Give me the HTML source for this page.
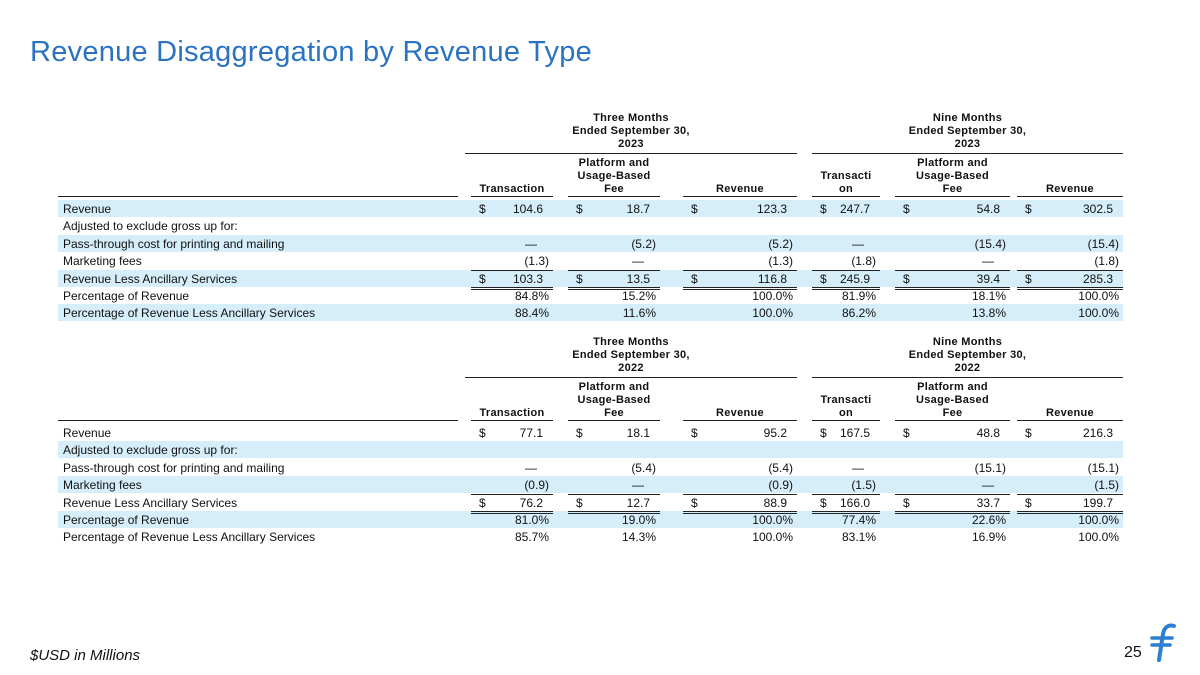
<!DOCTYPE html>
<html><head><meta charset="utf-8"><style>
body{margin:0;width:1200px;height:675px;background:#fff;position:relative;overflow:hidden;font-family:"Liberation Sans",Arial,sans-serif;}
.a{position:absolute;white-space:nowrap;z-index:1;}
.t{font-size:12px;color:#111;line-height:17px;}
.h{font-size:11px;font-weight:bold;color:#111;line-height:13px;text-align:center;letter-spacing:0.3px;}
.ln{position:absolute;height:0;border-top:1.5px solid #222;z-index:2;}
.sh{position:absolute;background:#d5eefa;height:17px;z-index:0;}
</style></head><body>
<div class="a" style="left:30px;top:36px;font-size:29px;color:#2b73c2;letter-spacing:0.25px;">Revenue Disaggregation by Revenue Type</div>
<div id="root"></div>
<div class="a" style="left:30px;top:647px;font-size:15px;font-style:italic;color:#111;">$USD in Millions</div>
<div class="a" style="left:1124px;top:644px;font-size:16px;color:#111;">25</div>
<svg class="a" style="left:1148px;top:622px" width="32" height="42" viewBox="0 0 32 42">
<path d="M26 4 C20 2 16 6 15 12 L11 38" stroke="#2b7fd1" stroke-width="4" fill="none" stroke-linecap="round"/>
<line x1="4" y1="16" x2="24" y2="16" stroke="#2b7fd1" stroke-width="3.5" stroke-linecap="round"/>
<line x1="4" y1="23" x2="22" y2="23" stroke="#2b7fd1" stroke-width="3.5" stroke-linecap="round"/>
</svg>
<script>
const cols=[[471,553],[568,660],[683,797],[812,880],[895,1010],[1017,1123]];
const labels=["Revenue","Adjusted to exclude gross up for:","Pass-through cost for printing and mailing","Marketing fees","Revenue Less Ancillary Services","Percentage of Revenue","Percentage of Revenue Less Ancillary Services"];
const dollarRows=[0,4];
const vals2023=[["104.6","18.7","123.3","247.7","54.8","302.5"],null,["—","(5.2)","(5.2)","—","(15.4)","(15.4)"],["(1.3)","—","(1.3)","(1.8)","—","(1.8)"],["103.3","13.5","116.8","245.9","39.4","285.3"],["84.8%","15.2%","100.0%","81.9%","18.1%","100.0%"],["88.4%","11.6%","100.0%","86.2%","13.8%","100.0%"]];
const vals2022=[["77.1","18.1","95.2","167.5","48.8","216.3"],null,["—","(5.4)","(5.4)","—","(15.1)","(15.1)"],["(0.9)","—","(0.9)","(1.5)","—","(1.5)"],["76.2","12.7","88.9","166.0","33.7","199.7"],["81.0%","19.0%","100.0%","77.4%","22.6%","100.0%"],["85.7%","14.3%","100.0%","83.1%","16.9%","100.0%"]];
const root=document.getElementById('root');
function mk(cls,style,text){const d=document.createElement('div');d.className=cls;d.style.cssText=style;if(text!=null)d.textContent=text;root.appendChild(d);return d;}
function table(top,year,vals,shadeParity,name){
  const groups=[["Three Months",465,797],["Nine Months",812,1123]];
  groups.forEach((g,i)=>{
    const d=mk('a h',`left:${g[1]}px;width:${g[2]-g[1]}px;top:${top+1}px;`);
    d.innerHTML=g[0]+"<br>Ended September 30,<br>"+year;
    
    
    mk('ln',`left:${g[1]}px;width:${g[2]-g[1]}px;top:${top+42}px;`);
  });
  const sub=["<br><br>Transaction","Platform and<br>Usage-Based<br>Fee","<br><br>Revenue","<br>Transacti<br>on","Platform and<br>Usage-Based<br>Fee","<br><br>Revenue"];
  cols.forEach((c,i)=>{
    const d=mk('a h',`left:${c[0]}px;width:${c[1]-c[0]}px;top:${top+46}px;`);
    d.innerHTML=sub[i];
    
    
    mk('ln',`left:${c[0]}px;width:${c[1]-c[0]}px;top:${top+85}px;`);
  });
  mk('ln',`left:58px;width:400px;top:${top+85}px;`);
  const y0=top+89;
  labels.forEach((lab,r)=>{
    const y=y0+r*17.4;
    if(r%2===shadeParity){
      mk('sh',`left:58px;width:1065px;top:${y}px;`);
    }
    const l=mk('a t',`left:63px;top:${y+1}px;`,lab);
    
    
    const v=vals[r];
    if(!v)return;
    cols.forEach((c,i)=>{
      if(dollarRows.includes(r)){
        mk('a t',`left:${c[0]+8}px;top:${y+1}px;`,'$');
      }
      const pad=v[i]==="—"?(i===2||i===5?18:16):(v[i].endsWith(')')||v[i].endsWith('%')?4:10);
      const e=mk('a t',`right:${1200-c[1]+pad}px;top:${y+1}px;text-align:right;`,v[i]);
      
      
      if(r===4){
        mk('ln',`left:${c[0]}px;width:${c[1]-c[0]}px;top:${y}px;border-top-width:1px;`);
        mk('ln',`left:${c[0]}px;width:${c[1]-c[0]}px;top:${y+17}px;border-top-width:1px;`);
        mk('ln',`left:${c[0]}px;width:${c[1]-c[0]}px;top:${y+19.5}px;border-top-width:1px;`);
      }
    });
  });
}
table(111,"2023",vals2023,0,'table-2023');
table(335,"2022",vals2022,1,'table-2022');
</script>
</body></html>
